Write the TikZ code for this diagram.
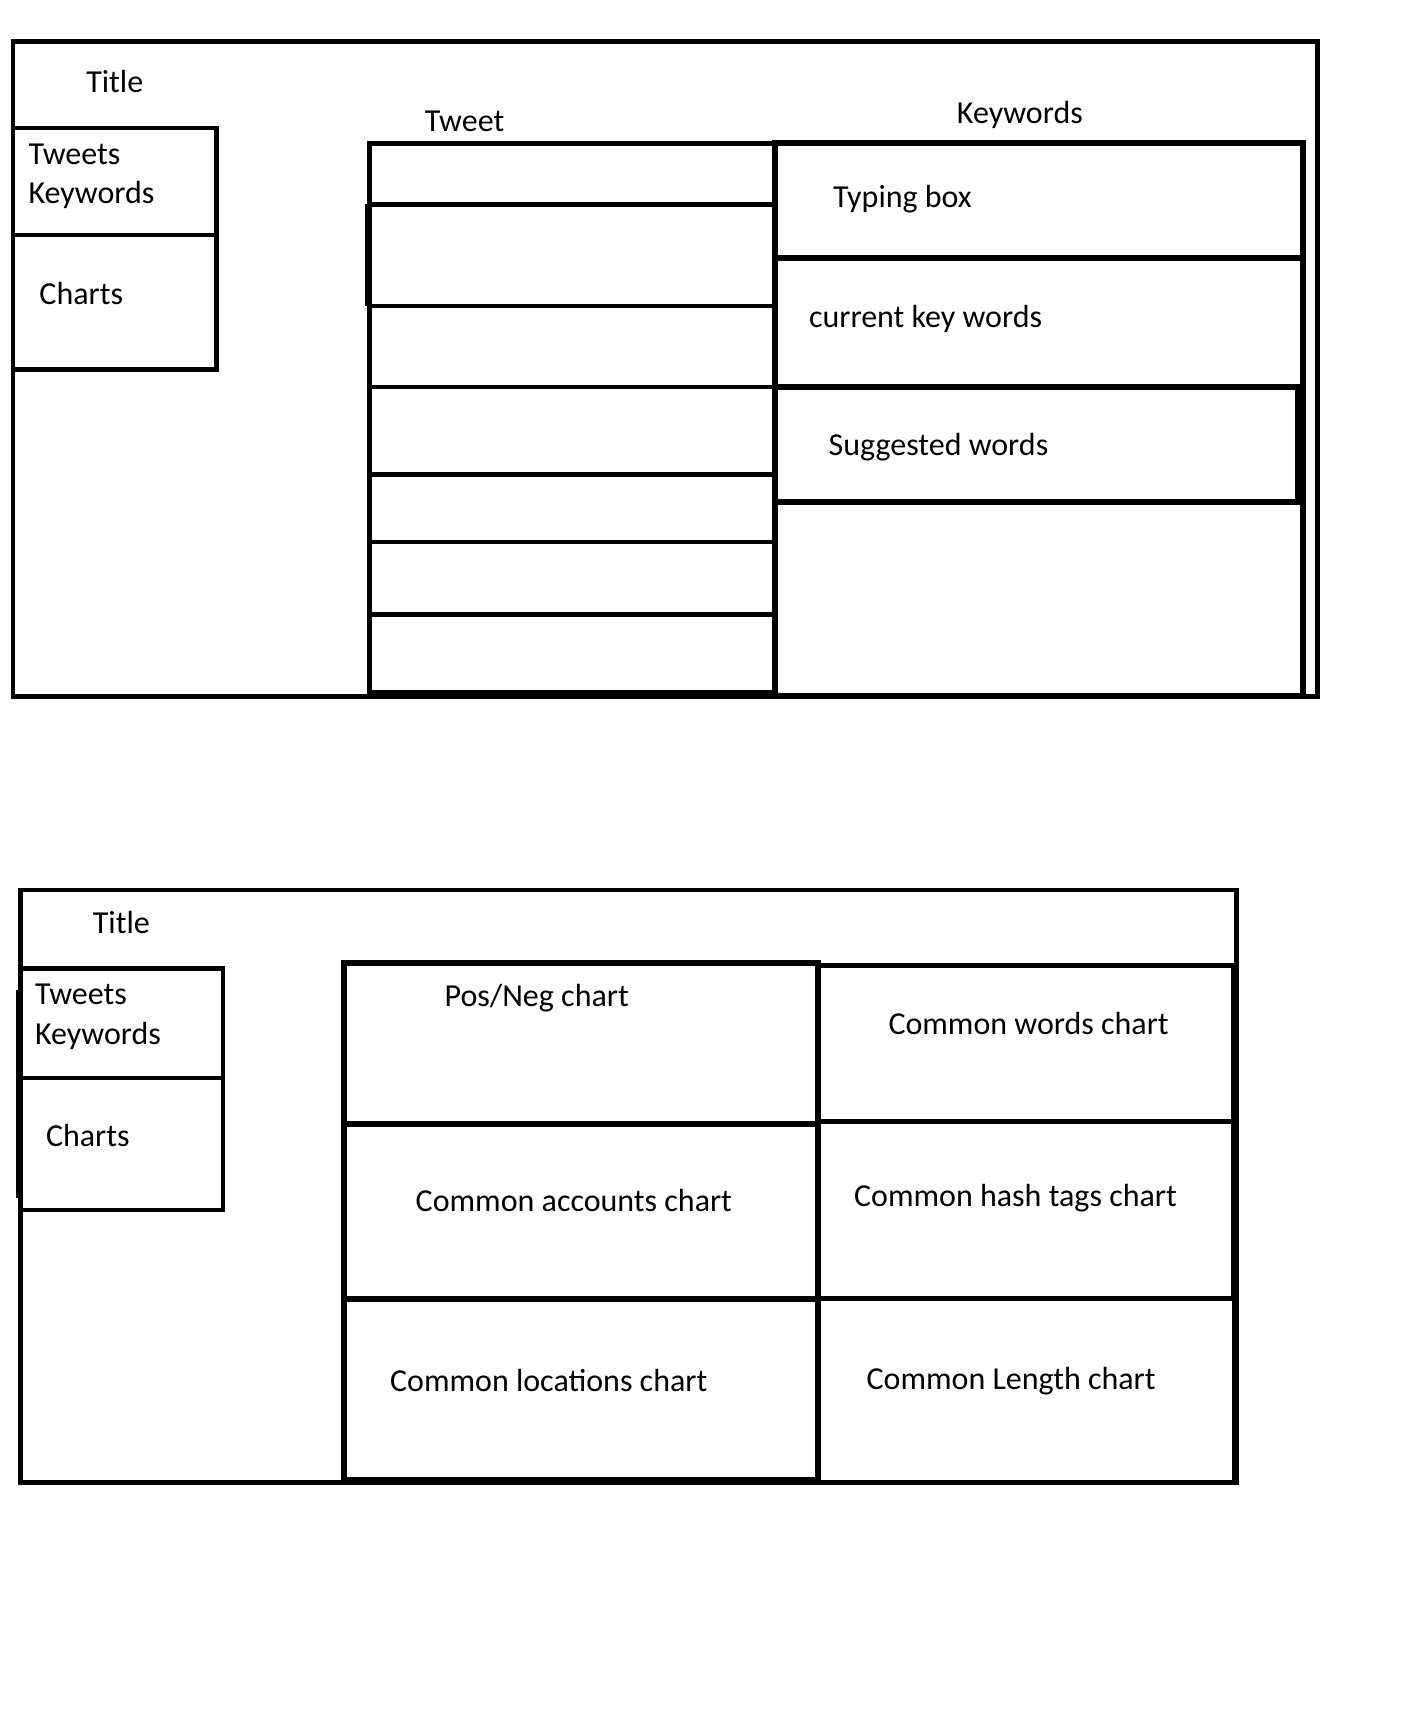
\documentclass[tikz,border=0pt]{standalone}
\usepackage{fontspec}
\setmainfont{Carlito}
\usepackage{tikz}
\def\largeur{1288}
\def\hauteur{1568}

\tikzset{
  lbl/.style={font=\fontsize{16}{19}\selectfont, inner sep=0pt, anchor=mid west},
  clbl/.style={lbl, anchor=mid},
  fat/.style={line width=3pt}
}

\begin{document}
\begin{tikzpicture}[x=0.5466pt, y=-0.5466pt, line width=2.3pt]
\useasboundingbox (0,0) rectangle (\largeur,\hauteur);
%\draw[step=100, line width=0.1pt, black!30!white] (0,0) grid (\largeur,\hauteur);

% --- tweets page ---
\draw (12,38) rectangle (1205,637);
\node[clbl] (titleA) at (105,80) {Title};
\draw (12,117) rectangle (198,338);
\draw (12,215) -- (199,215);
\node[lbl] (tweetsA) at (24,146) {Tweets};
\node[lbl] (keywordsA) at (24,182) {Keywords};
\node[lbl] (chartsA) at (34,274) {Charts};

% tweet column
\node[clbl] (tweet) at (425,116) {Tweet};
\draw (338,131) rectangle (709,634);
\foreach \y in {187,280,354,434,496,562}
    \draw (338,\y) -- (709,\y);
\draw[line width=3.2pt] (337,187) -- (337,280);
\draw[fat] (338,634) -- (709,634);

% keywords column
\node[clbl] (keywords) at (933,109) {Keywords};
\draw[fat] (709,131) rectangle (1192,637);
\draw[fat] (709,236) -- (1191,236);
\draw[fat] (709,354) rectangle (1187,459);
\node[lbl] (typing) at (760,185) {Typing box};
\node[lbl] (current) at (738,295) {current key words};
\node[lbl] (suggested) at (756,412) {Suggested words};

% --- charts page ---
\draw (19,814) rectangle (1131,1356);
\node[clbl] (titleB) at (111,850) {Title};
\draw (19,886) rectangle (204,1107);
\draw (19,986) -- (205,986);
\draw (17,906) -- (17,1096);
\node[lbl] (tweetsB) at (30,915) {Tweets};
\node[lbl] (keywordsB) at (30,951) {Keywords};
\node[lbl] (chartsB) at (40,1044) {Charts};

% chart grid
\draw[fat] (315,881) rectangle (748,1354);
\draw[fat] (315,1028) -- (748,1028);
\draw[fat] (315,1188) -- (748,1188);
\draw (748,883) rectangle (1129,1356);
\draw[fat] (1129,883) -- (1129,1188);
\draw (748,1026) -- (1129,1026);
\draw (748,1188) -- (1129,1188);
\node[clbl] (posneg) at (491,916) {Pos/Neg chart};
\node[clbl] (words) at (941,942) {Common words chart};
\node[clbl] (accounts) at (525,1104) {Common accounts chart};
\node[clbl] (hashtags) at (929,1099) {Common hash tags chart};
\node[clbl] (locations) at (502,1269) {Common locations chart};
\node[clbl] (length) at (925,1267) {Common Length chart};
\end{tikzpicture}
\end{document}
